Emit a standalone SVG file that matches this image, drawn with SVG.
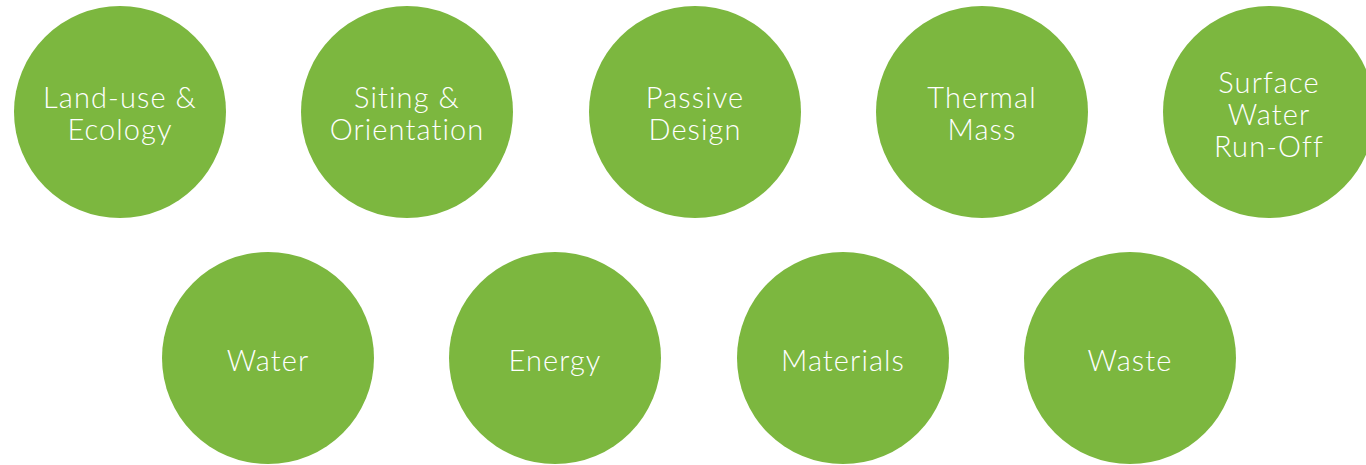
<svg xmlns="http://www.w3.org/2000/svg" width="1366" height="465" viewBox="0 0 1366 465">
<style>
.c{fill:#7cb73f}
.t{fill:#fff;font-family:"Lato","Open Sans","Liberation Sans",sans-serif;font-weight:300;font-size:29px;letter-spacing:1.1px;font-variant-ligatures:none;text-anchor:middle}
</style>
<rect width="1366" height="465" fill="#fff"/>
<g id="n1"><circle class="c" cx="120" cy="112" r="106"/><text class="t" x="120" y="108">Land-use &amp;</text><text class="t" x="120" y="140">Ecology</text></g>
<g id="n2"><circle class="c" cx="407" cy="112" r="106"/><text class="t" x="407" y="108">Siting &amp;</text><text class="t" x="407" y="140">Orientation</text></g>
<g id="n3"><circle class="c" cx="695" cy="112" r="106"/><text class="t" x="695" y="108">Passive</text><text class="t" x="695" y="140">Design</text></g>
<g id="n4"><circle class="c" cx="982" cy="112" r="106"/><text class="t" x="982" y="108">Thermal</text><text class="t" x="982" y="140">Mass</text></g>
<g id="n5"><circle class="c" cx="1269" cy="112" r="106"/><text class="t" x="1269" y="93">Surface</text><text class="t" x="1269" y="125">Water</text><text class="t" x="1269" y="157">Run-Off</text></g>
<g id="n6"><circle class="c" cx="268" cy="358" r="106"/><text class="t" x="268" y="371">Water</text></g>
<g id="n7"><circle class="c" cx="555" cy="358" r="106"/><text class="t" x="555" y="371">Energy</text></g>
<g id="n8"><circle class="c" cx="843" cy="358" r="106"/><text class="t" x="843" y="371">Materials</text></g>
<g id="n9"><circle class="c" cx="1130" cy="358" r="106"/><text class="t" x="1130" y="371">Waste</text></g>
<g id="connectors"/>
</svg>
